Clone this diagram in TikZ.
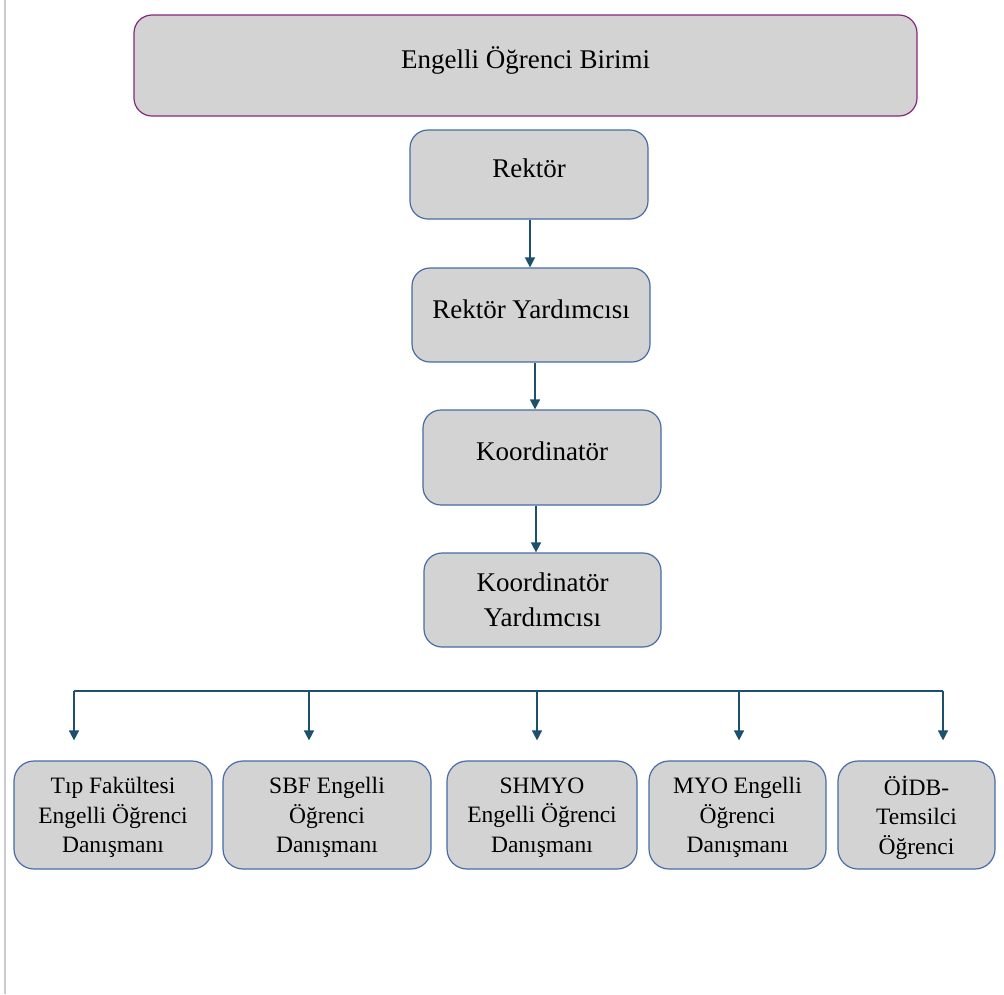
\documentclass[tikz,border=0pt]{standalone}
\usepackage{fontspec}
\setmainfont{Liberation Serif}
\usepackage{xcolor}
\usetikzlibrary{positioning, arrows.meta}

\definecolor{boxfill}{RGB}{211,211,211}
\definecolor{boxline}{RGB}{72,108,165}
\definecolor{topline}{RGB}{130,40,125}
\definecolor{arrline}{RGB}{28,80,108}

\tikzset{
  unitbox/.style={draw=boxline, line width=1.2pt, fill=boxfill, rounded corners=18pt,
    align=center, inner sep=0pt, font=\fontsize{27}{35}\selectfont},
  onebox/.style={unitbox, text height=18pt, text depth=12pt},
  lowbox/.style={unitbox, minimum height=108pt, rounded corners=20pt, text depth=0pt,
    font=\fontsize{23.5}{29.5}\selectfont},
  arr/.style={draw=arrline, line width=1.5pt, -{Triangle[width=10pt,length=10pt]}},
  barline/.style={draw=arrline, line width=1.5pt}
}

\begin{document}
\begin{tikzpicture}[x=1pt, y=-1pt]
  \useasboundingbox (0,0) rectangle (1004,994);
  % page edge
  \draw[black!20, line width=1.2pt] (5,0) -- (5,994);

  % Upper chain
  \node[onebox, draw=topline, minimum width=783pt, minimum height=101pt] (birim) at (525.5,65.5) {Engelli Öğrenci Birimi};
  \node[onebox, minimum width=238pt, minimum height=89pt] (rektor) at (529,174.5) {Rektör};
  \node[onebox, minimum width=238pt, minimum height=94pt] (ryard) at (531,315) {Rektör Yardımcısı};
  \node[onebox, minimum width=238pt, minimum height=95pt] (koord) at (542,457.5) {Koordinatör};
  \node[unitbox, minimum width=237pt, minimum height=94pt] (kyard) at (542.5,600) {Koordinatör\\Yardımcısı};

  % Arrows
  \draw[arr] ([xshift=1pt]rektor.south) -- ([xshift=1pt]rektor.south |- ryard.north);
  \draw[arr] ([xshift=4pt]ryard.south) -- ([xshift=4pt]ryard.south |- koord.north);
  \draw[arr] ([xshift=-6pt]koord.south) -- ([xshift=-6pt]koord.south |- kyard.north);

  % Lower row
  \node[lowbox, minimum width=198pt] (tip) at (113,815) {Tıp Fakültesi\\Engelli Öğrenci\\Danışmanı};
  \node[lowbox, minimum width=208pt] (sbf) at (327,815) {SBF Engelli\\Öğrenci\\Danışmanı};
  \node[lowbox, minimum width=190pt] (shmyo) at (542,815) {SHMYO\\Engelli Öğrenci\\Danışmanı};
  \node[lowbox, minimum width=177pt] (myo) at (737.5,815) {MYO Engelli\\Öğrenci\\Danışmanı};
  \node[lowbox, minimum width=157pt] (oidb) at (916.5,815) {ÖİDB-\\Temsilci\\Öğrenci};

  % Distribution bar
  \coordinate (b1) at (74,691);
  \coordinate (b2) at (309,691);
  \coordinate (b3) at (537,691);
  \coordinate (b4) at (739,691);
  \coordinate (b5) at (943,691);
  \draw[barline] (b1) -- (b5);
  \draw[arr, shorten >=20pt] (b1) -- (b1 |- tip.north);
  \draw[arr, shorten >=20pt] (b2) -- (b2 |- sbf.north);
  \draw[arr, shorten >=20pt] (b3) -- (b3 |- shmyo.north);
  \draw[arr, shorten >=20pt] (b4) -- (b4 |- myo.north);
  \draw[arr, shorten >=20pt] (b5) -- (b5 |- oidb.north);
\end{tikzpicture}
\end{document}
